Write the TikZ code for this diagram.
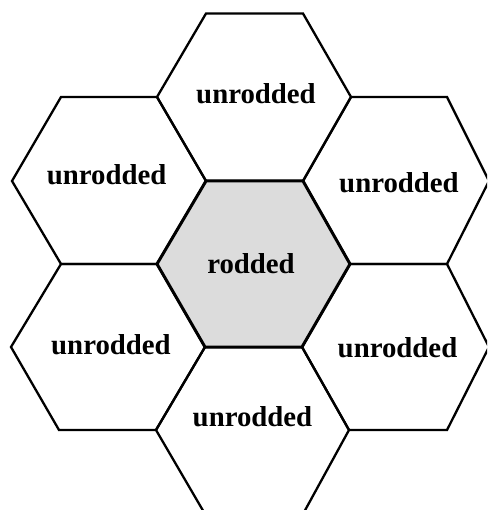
\documentclass[tikz,border=0pt]{standalone}
\usepackage{fontspec}
\setmainfont{Liberation Serif}
\definecolor{rodfill}{RGB}{220,220,220}
\begin{document}
\begin{tikzpicture}[x=1pt,y=-1pt,
  hexline/.style={draw=black,line width=2.3pt,line join=miter},
  hexcore/.style={draw=black,fill=rodfill,line width=3pt,line join=miter},
  lab/.style={inner sep=0pt,anchor=base,font=\fontsize{28.8}{30}\selectfont\bfseries}]
\useasboundingbox (0,0) rectangle (487,510);
\clip (0,0) rectangle (487,510);
% top
\draw[hexline] (157,97) -- (206,13.5) -- (303,13.5) -- (351,97) -- (303,181) -- (206,181) -- cycle;
% upper left
\draw[hexline] (12,181) -- (61,97) -- (157,97) -- (206,181) -- (157,264) -- (61,264) -- cycle;
% upper right
\draw[hexline] (303,181) -- (351,97) -- (447,97) -- (489,181) -- (447,264) -- (350,264) -- cycle;
% lower left
\draw[hexline] (11,347) -- (61,264) -- (157,264) -- (205,347) -- (156,430) -- (59,430) -- cycle;
% lower right
\draw[hexline] (302,347) -- (350,264) -- (447,264) -- (489,347) -- (447,430) -- (349,430) -- cycle;
% bottom
\draw[hexline] (156,430) -- (205,347) -- (302,347) -- (349,430) -- (303,514) -- (205,514) -- cycle;
% centre
\draw[hexcore] (157,264) -- (206,181) -- (303,181) -- (350,264) -- (302,347) -- (205,347) -- cycle;
\node[lab] (ltop) at (256,104) {unrodded};
\node[lab] (lul) at (106.7,185) {unrodded};
\node[lab] (lur) at (399,193) {unrodded};
\node[lab] (lctr) at (251,273.3) {rodded};
\node[lab] (lll) at (111,354) {unrodded};
\node[lab] (llr) at (397.5,357.3) {unrodded};
\node[lab] (lbot) at (252.5,426.7) {unrodded};
\end{tikzpicture}
\end{document}
